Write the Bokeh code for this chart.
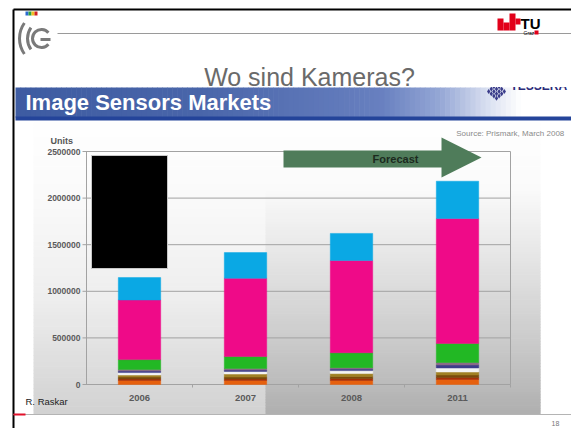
import numpy as np
from bokeh.plotting import figure
from bokeh.models import Range1d, ColumnDataSource
from bokeh.core.properties import value
from bokeh.embed import file_html
from bokeh.resources import INLINE

# ---- data: image sensor units by year, stacked segments bottom -> top ----
years = ["2006", "2007", "2008", "2011"]
orange = [43000, 43000, 43000, 54000]
dark_red = [16000, 16000, 21000, 21000]
brown = [21000, 21000, 21000, 27000]
olive = [21000, 32000, 32000, 32000]
white = [27000, 27000, 32000, 43000]
navy = [16000, 16000, 16000, 32000]
mauve = [16000, 16000, 16000, 27000]
green = [107000, 129000, 160000, 205000]
pink = [640000, 840000, 990000, 1340000]
blue = [240000, 275000, 290000, 400000]

series_names = ["orange", "dark_red", "brown", "olive", "white",
                "navy", "mauve", "green", "pink", "blue"]
series_values = [orange, dark_red, brown, olive, white,
                 navy, mauve, green, pink, blue]
series_colors = ["#e6600e", "#a8300a", "#7a4a0c", "#a08024", "#f4f4f4",
                 "#3c3c8a", "#8a6a88", "#22b824", "#ef0a88", "#0aa8e4"]

y_ticks = [0, 500000, 1000000, 1500000, 2000000, 2500000]
y_tick_labels = ["0", "500000", "1000000", "1500000", "2000000", "2500000"]
y_max = 2500000

# ---- canvas geometry (pixels) ----
W, H = 571, 428
AX_LEFT, AX_RIGHT = 86, 510
Y0_PX, YTOP_PX = 384, 151
SLOT_PX = (AX_RIGHT - AX_LEFT) / len(years)
K = (Y0_PX - YTOP_PX) / y_max  # pixels per unit

FONT = value("Liberation Sans")

p = figure(width=W, height=H, x_range=Range1d(0, W), y_range=Range1d(H, 0),
           toolbar_location=None, output_backend="svg", min_border=0,
           x_axis_location=None, y_axis_location=None,
           outline_line_color=None, background_fill_color="white",
           border_fill_color="white")
p.grid.grid_line_color = None

# chart coordinate system: slots along x, units along y
p.extra_x_ranges = {"slot": Range1d(-AX_LEFT / SLOT_PX, (W - AX_LEFT) / SLOT_PX)}
p.extra_y_ranges = {"units": Range1d((Y0_PX - H) / K, Y0_PX / K)}


def lerp_stops(pos, stops):
    xs = [s[0] for s in stops]
    cols = np.array([s[1] for s in stops], dtype=float)
    r = np.interp(pos, xs, cols[:, 0])
    g = np.interp(pos, xs, cols[:, 1])
    b = np.interp(pos, xs, cols[:, 2])
    return ["#%02x%02x%02x" % (int(a), int(c), int(d)) for a, c, d in zip(r, g, b)]


def vertical_gradient(x0, x1, y0, y1, stops, n=80):
    edges = np.linspace(y0, y1, n + 1)
    mids = (edges[:-1] + edges[1:]) / 2
    p.quad(left=x0, right=x1, top=edges[:-1], bottom=edges[1:] + 0.6,
           fill_color=lerp_stops(mids, stops), line_color=None)


def horizontal_gradient(x0, x1, y0, y1, stops, n=110):
    edges = np.linspace(x0, x1, n + 1)
    mids = (edges[:-1] + edges[1:]) / 2
    p.quad(left=edges[:-1], right=edges[1:] + 0.6, top=y0, bottom=y1,
           fill_color=lerp_stops(mids, stops), line_color=None)


# ---- chart backdrop ----
vertical_gradient(33, 540, 122, 413,
                  [(122, (255, 255, 255)), (200, (250, 250, 250)),
                   (300, (238, 238, 238)), (413, (210, 210, 210))])
vertical_gradient(265, 540, 190, 413,
                  [(190, (250, 250, 250)), (250, (232, 232, 232)),
                   (300, (216, 216, 216)), (350, (200, 200, 200)),
                   (413, (176, 176, 176))])

# ---- banner ----
horizontal_gradient(15, W, 87, 117,
                    [(15, (62, 92, 162)), (200, (74, 102, 170)),
                     (380, (104, 128, 192)), (440, (150, 168, 214)),
                     (485, (215, 222, 240)), (520, (255, 255, 255)),
                     (W, (255, 255, 255))])
p.quad(left=15, right=W, top=116, bottom=120, fill_color="#24449a", line_color=None)
p.text(x=[25], y=[102], text=["Image Sensors Markets"], text_font=FONT,
       text_font_style="bold", text_font_size="22px", text_color="white",
       text_align="left", text_baseline="middle")

# TESSERA mark (top edge cropped by the slide's white header)
di, dj = np.meshgrid(np.arange(4), np.arange(4))
p.scatter(x=(496 + (di - dj) * 2.6).ravel(), y=(84 + (di + dj) * 2.3).ravel(),
          marker="diamond", size=5, fill_color="#3a3c8a", line_color=None)
p.text(x=[510], y=[85], text=["TESSERA"], text_font=FONT, text_font_style="bold",
       text_font_size="12px", text_color="#2c2c7a", text_align="left",
       text_baseline="middle")
p.quad(left=480, right=W, top=60, bottom=86.5, fill_color="white", line_color=None)

# ---- slide header ----
p.segment(x0=13, y0=9, x1=W, y1=9, line_color="black", line_width=2)
p.segment(x0=13, y0=9, x1=13, y1=H, line_color="black", line_width=2)
p.segment(x0=57, y0=33, x1=W, y1=33, line_color="#9a9a9a", line_width=1)
p.quad(left=[25, 28, 31, 34], right=[28, 31, 34, 37], top=11, bottom=15,
       fill_color=["#2a6ad0", "#2aa040", "#f0c020", "#d02020"], line_color=None)
p.arc(x=[46, 46], y=[38, 38], radius=[27, 19], start_angle=np.radians(145),
      end_angle=np.radians(215), line_color="#7a7a7a", line_width=3)
p.arc(x=[41], y=[38], radius=[9], start_angle=np.radians(40),
      end_angle=np.radians(320), line_color="#7a7a7a", line_width=3)
p.segment(x0=40, y0=39, x1=50, y1=39, line_color="#7a7a7a", line_width=3)

p.quad(left=[497, 503, 509, 515], right=[503, 509, 515, 520],
       top=[18, 22, 13, 18], bottom=[30, 30, 30, 24],
       fill_color="#e2001a", line_color=None)
p.text(x=[520], y=[23], text=["TU"], text_font=FONT, text_font_style="bold",
       text_font_size="15px", text_color="black", text_align="left",
       text_baseline="middle")
p.text(x=[523], y=[32], text=["Graz"], text_font=FONT, text_font_size="5px",
       text_color="black", text_align="left", text_baseline="middle")
p.quad(left=534, right=538, top=30, bottom=34, fill_color="#e2001a", line_color=None)

p.text(x=[309], y=[76], text=["Wo sind Kameras?"], text_font=FONT,
       text_font_size="25px", text_color="#6a6a6a", text_align="center",
       text_baseline="middle")

# ---- chart axes and grid ----
n = len(years)
ch = dict(x_range_name="slot", y_range_name="units")
p.segment(x0=-4 / SLOT_PX, x1=n, y0=y_ticks, y1=y_ticks,
          line_color="#a2a2a2", line_width=1, **ch)
p.segment(x0=[0, n], x1=[0, n], y0=[0, 0], y1=[y_max, y_max],
          line_color="#a2a2a2", line_width=1, **ch)
p.segment(x0=list(range(1, n + 1)), x1=list(range(1, n + 1)), y0=0, y1=-3 / K,
          line_color="#a2a2a2", line_width=1, **ch)
p.text(x=0, y=y_ticks, text=y_tick_labels, x_offset=-6, text_font=FONT,
       text_font_style="bold", text_font_size="8.5px", text_color="#5a5a5a",
       text_align="right", text_baseline="middle", **ch)
p.text(x=[-36 / SLOT_PX], y=[y_max], y_offset=-11, text=["Units"], text_font=FONT,
       text_font_style="bold", text_font_size="9px", text_color="#555555",
       text_align="left", text_baseline="middle", **ch)

# ---- stacked bars ----
data = {"x": [i + 0.5 for i in range(n)], "year": years}
for name, vals in zip(series_names, series_values):
    data[name] = vals
src = ColumnDataSource(data)
p.vbar_stack(series_names, x="x", width=0.4, source=src,
             fill_color=series_colors, line_color=series_colors,
             line_width=0.5, **ch)

p.text(x=[i + 0.5 for i in range(n)], y=0, y_offset=13, text=years,
       text_font=FONT, text_font_style="bold", text_font_size="9.5px",
       text_color="#5a5a5a", text_align="center", text_baseline="middle", **ch)

# redaction block
p.quad(left=91, right=167, top=155, bottom=268, fill_color="black",
       line_color="#c8c8c8", line_width=1)

# forecast arrow
p.patch(x=[283, 441, 441, 481, 441, 441, 283],
        y=[150, 150, 137, 157, 177, 167, 167],
        fill_color="#4f7c5a", line_color=None)
p.text(x=[395], y=[158], text=["Forecast"], text_font=FONT, text_font_style="bold",
       text_font_size="11px", text_color="#1c2a1e", text_align="center",
       text_baseline="middle")

p.text(x=[566], y=[133], text=["Source: Prismark, March  2008"], text_font=FONT,
       text_font_size="8px", text_color="#8a8a8a", text_align="right",
       text_baseline="middle")

# ---- footer ----
p.segment(x0=13, y0=414, x1=W, y1=414, line_color="#b4b4b4", line_width=1)
p.segment(x0=13, y0=414, x1=25, y1=414, line_color="#e2102a", line_width=2)
p.text(x=[25], y=[401], text=["R. Raskar"], text_font=FONT, text_font_size="9.5px",
       text_color="#222222", text_align="left", text_baseline="middle")
p.text(x=[555], y=[423], text=["18"], text_font=FONT, text_font_size="7px",
       text_color="#777777", text_align="center", text_baseline="middle")

open("out.html", "w").write(file_html(p, INLINE))
